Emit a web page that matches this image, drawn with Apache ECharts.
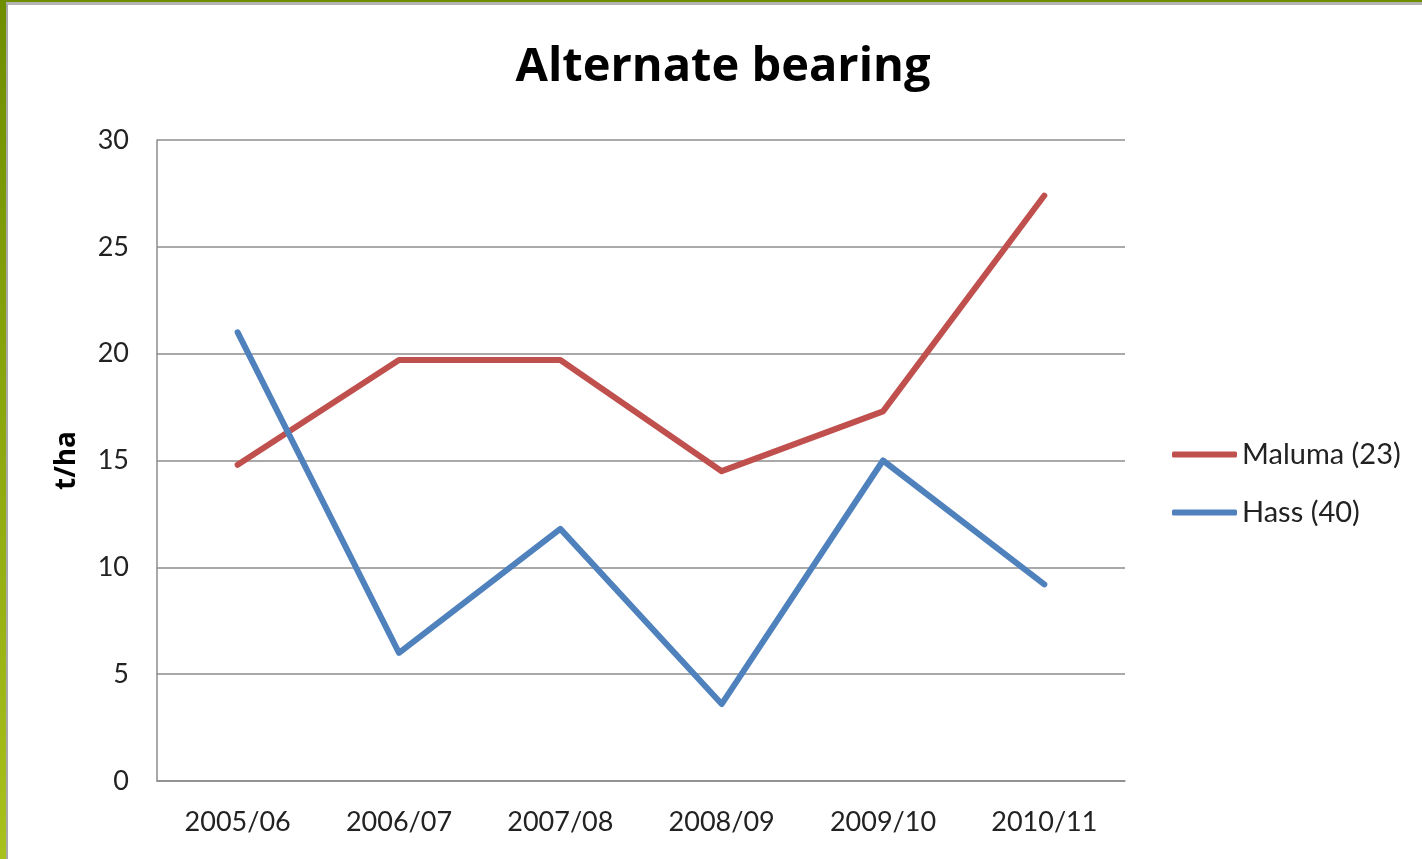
<!DOCTYPE html>
<html>
<head>
<meta charset="utf-8">
<script src="https://cdn.jsdelivr.net/npm/echarts@6/dist/echarts.min.js"></script>
<style>
html, body { margin: 0; padding: 0; background: #fff; }
.frame {
  position: absolute; left: 0; top: 0; width: 1422px; height: 859px;
  background: linear-gradient(#6e8e00, #a9c11c);
}
.inner {
  position: absolute; left: 6px; top: 2px; right: 0; bottom: 0;
  background: #fff;
  border-left: 2px solid #a8a8a8;
  border-top: 3px solid #b4b4b4;
}
#chart { position: absolute; left: 0; top: 0; width: 1422px; height: 859px; }
</style>
</head>
<body>
<div class="frame"><div class="inner"></div></div>
<div id="chart"></div>
<script>
// seasons on the x axis
var seasons = ["2005/06", "2006/07", "2007/08", "2008/09", "2009/10", "2010/11"];
// yields, t/ha
var maluma = [14.8, 19.7, 19.7, 14.5, 17.3, 27.4];
var hass = [21.0, 6.0, 11.8, 3.6, 15.0, 9.2];
var seriesNames = ["Maluma (23)", "Hass (40)"];

var font = "Lato, 'Open Sans', sans-serif";
var chart = echarts.init(document.getElementById("chart"), null, { renderer: "canvas" });
chart.setOption({
  backgroundColor: "transparent",
  animation: false,
  title: {
    text: "Alternate bearing",
    left: 718,
    textAlign: "center",
    top: 39,
    textStyle: { fontFamily: "'Open Sans', Lato, sans-serif", fontWeight: "bold", fontSize: 47, color: "#000" }
  },
  legend: {
    orient: "vertical",
    left: 1167,
    top: 435,
    itemWidth: 65,
    itemHeight: 6,
    itemGap: 29,
    icon: "roundRect",
    data: seriesNames,
    textStyle: { fontFamily: font, fontSize: 29, color: "#222", padding: [0, 0, 0, 0] }
  },
  grid: { left: 157, right: 297, top: 140, bottom: 78 },
  xAxis: {
    type: "category",
    data: seasons,
    boundaryGap: true,
    axisLine: { lineStyle: { color: "#8c8c8c", width: 1.5 } },
    axisTick: { show: false },
    axisLabel: { fontFamily: font, fontSize: 27, color: "#222", margin: 28 }
  },
  yAxis: {
    type: "value",
    min: 0,
    max: 30,
    interval: 5,
    name: "t/ha",
    nameLocation: "middle",
    nameGap: 76,
    nameRotate: 90,
    nameTextStyle: { fontFamily: "'Open Sans', Lato, sans-serif", fontWeight: "bold", fontSize: 28, color: "#000" },
    axisLine: { show: true, lineStyle: { color: "#8c8c8c", width: 1.5 } },
    axisTick: { show: false },
    splitLine: { lineStyle: { color: "#8c8c8c", width: 1.5 } },
    axisLabel: { fontFamily: font, fontSize: 27, color: "#222", margin: 28 }
  },
  series: [
    {
      name: seriesNames[0],
      type: "line",
      data: maluma,
      symbol: "none",
      color: "#c0504d",
      lineStyle: { width: 6, cap: "round", join: "round" }
    },
    {
      name: seriesNames[1],
      type: "line",
      data: hass,
      symbol: "none",
      color: "#4f81bd",
      lineStyle: { width: 6, cap: "round", join: "round" }
    }
  ]
});
</script>
</body>
</html>
